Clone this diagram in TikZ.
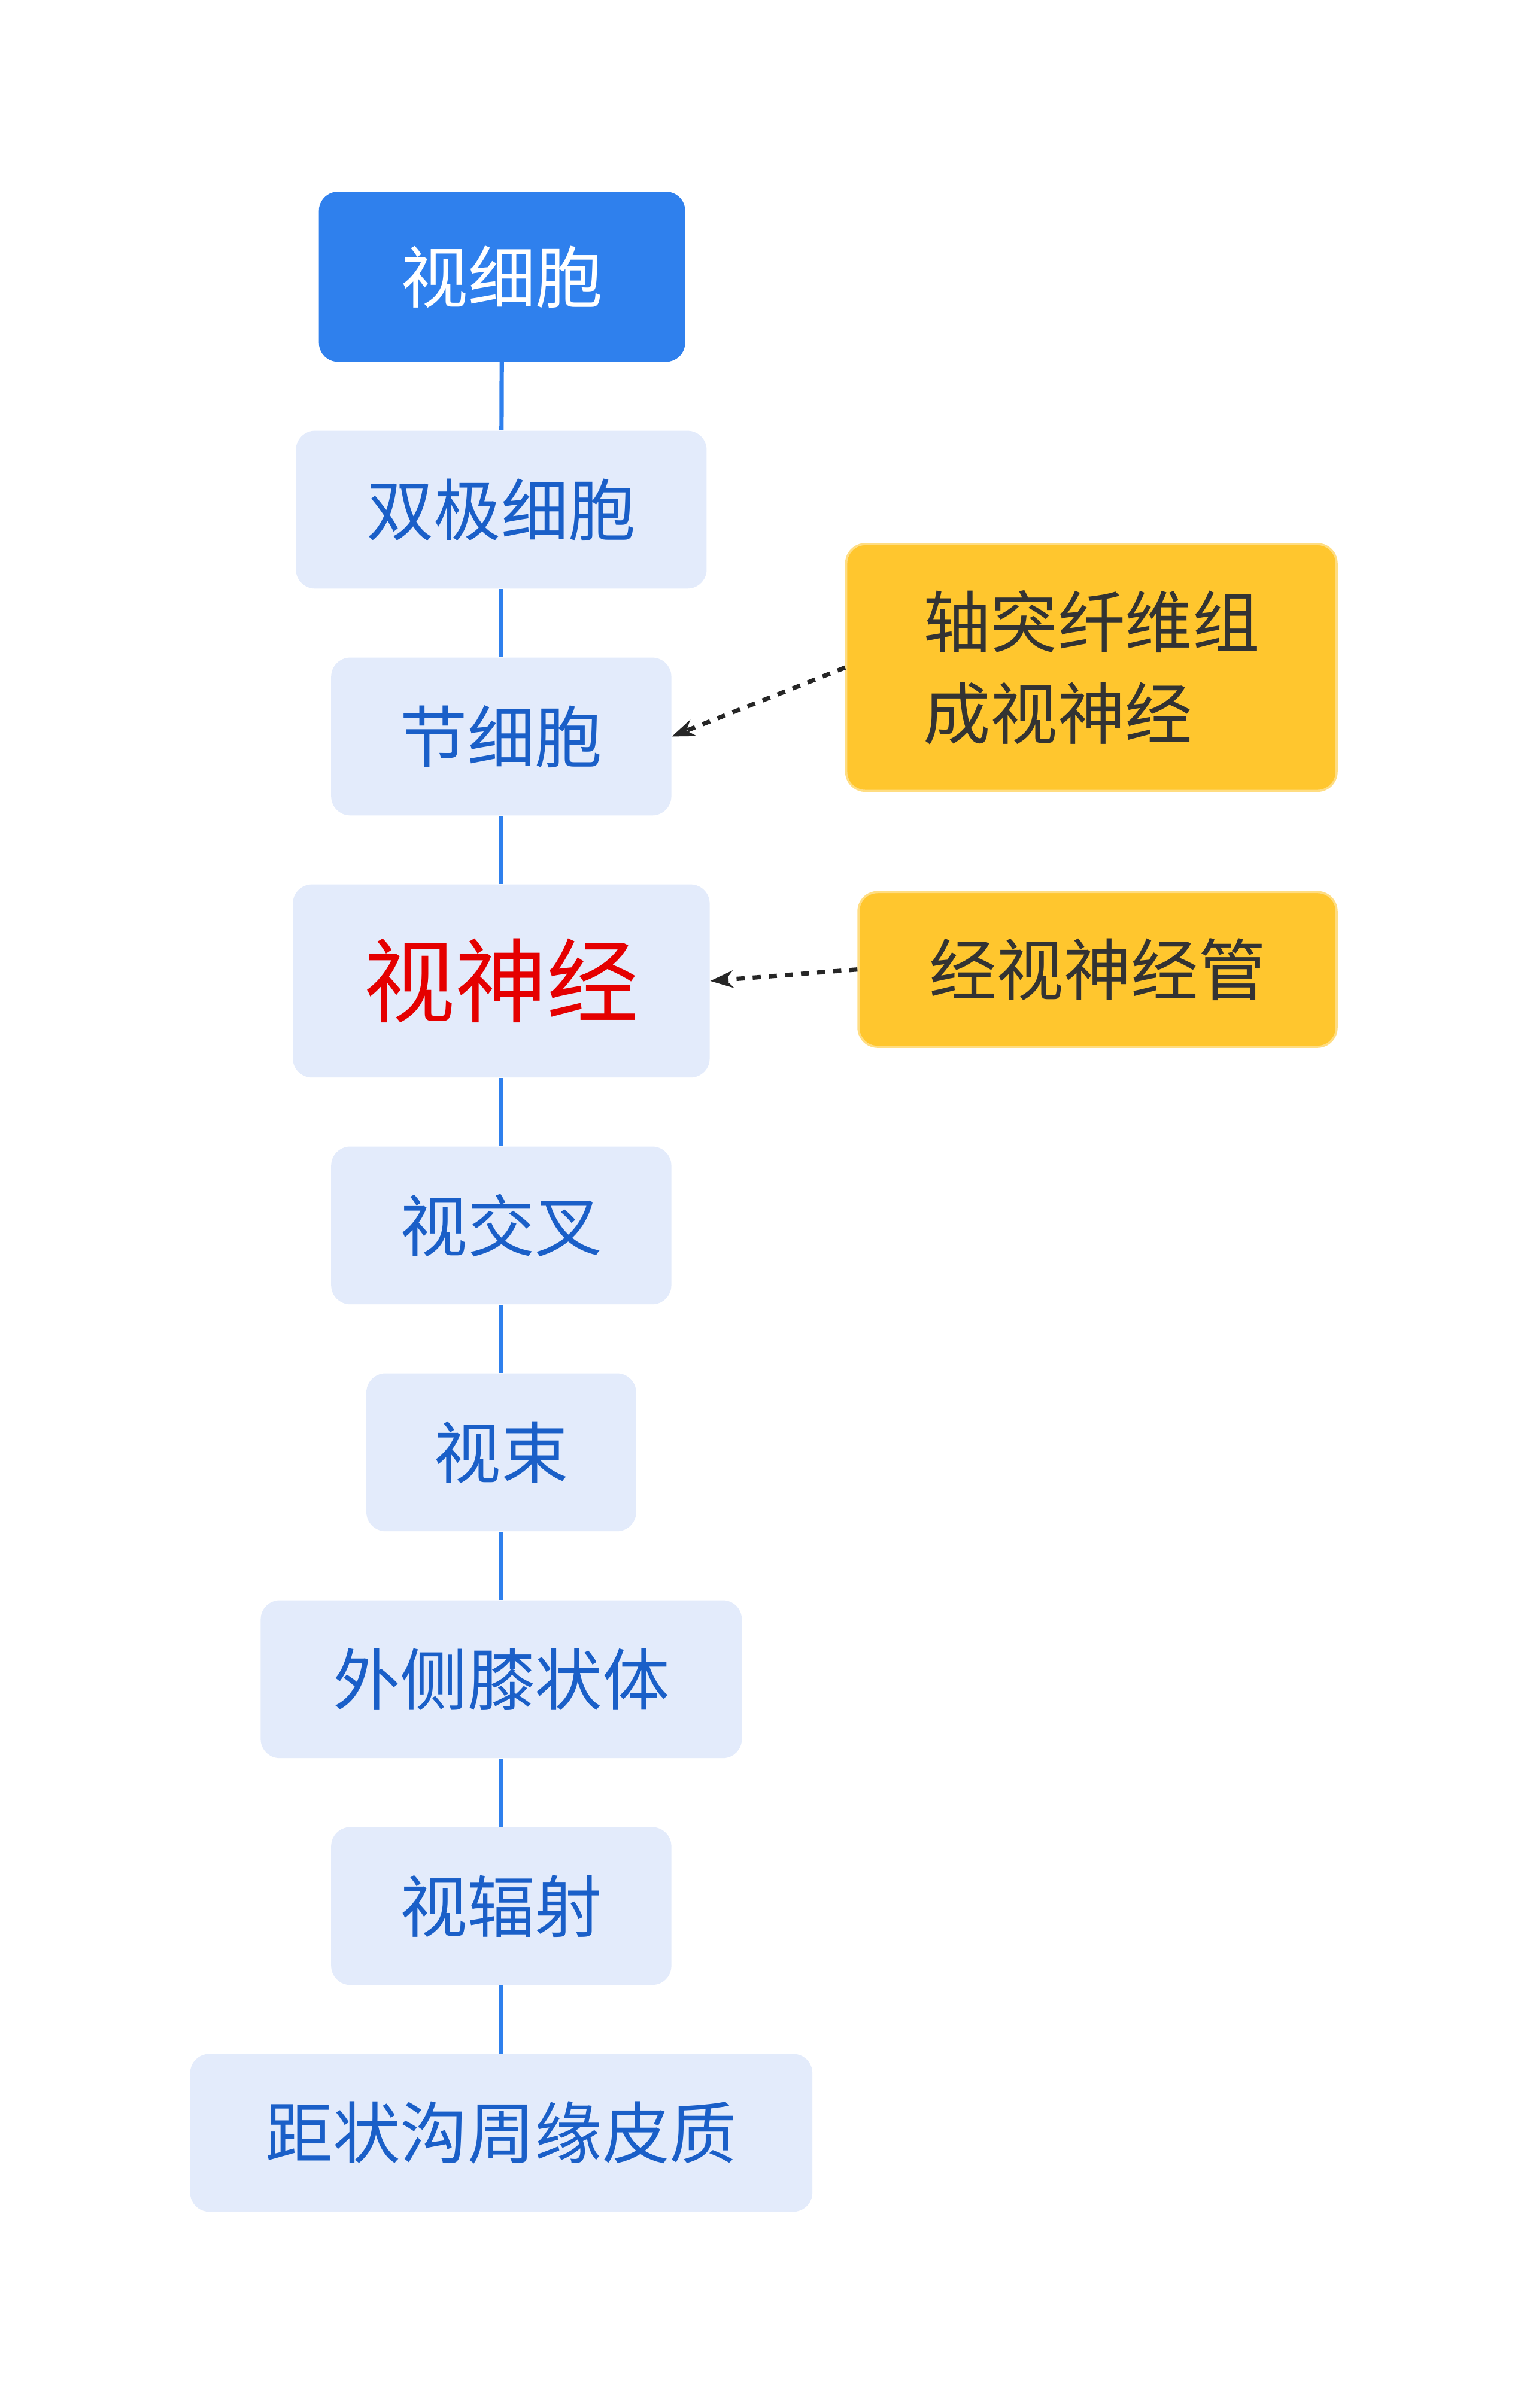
\documentclass[tikz,border=0pt]{standalone}
\usepackage{fontspec}
\setmainfont{Noto Sans CJK SC}
\usetikzlibrary{arrows.meta}
\definecolor{topblue}{HTML}{2F80ED}
\definecolor{boxfill}{HTML}{E3EBFB}
\definecolor{boxtext}{HTML}{1A5FC8}
\definecolor{notefill}{HTML}{FFC62E}
\tikzset{chain/.style={fill=boxfill, rounded corners=2.5mm, text=boxtext, font=\fontsize{25}{30}\selectfont, minimum height=2.06cm, inner sep=0pt},
  note/.style={fill=notefill, draw=notefill!60!white, line width=0.8pt, rounded corners=2.5mm, text=black!80, font=\fontsize{25}{34}\selectfont, inner sep=0pt},
  link/.style={draw=topblue, line width=1.6pt},
  hint/.style={dashed, line width=1.6pt, draw=black!85, -{Stealth[length=3mm]}}}
\begin{document}
\begin{tikzpicture}[x=0.02cm, y=-0.02cm]
\useasboundingbox (0,0) rectangle (1000,1571);
\node (vc) [chain, fill=topblue, text=white, minimum width=4.78cm, minimum height=2.22cm] at (327.5,180.5) {视细胞};
\node (bp) [chain, minimum width=5.36cm] at (327,332.5) {双极细胞};
\node (gc) [chain, minimum width=4.44cm] at (327,480.5) {节细胞};
\node (on) [chain, minimum width=5.44cm, minimum height=2.52cm, text=red!90!black, font=\fontsize{34}{40}\selectfont] at (327,640) {视神经};
\node (oc) [chain, minimum width=4.44cm] at (327,799.5) {视交叉};
\node (ot) [chain, minimum width=3.52cm] at (327,947.5) {视束};
\node (lg) [chain, minimum width=6.28cm] at (327,1095.5) {外侧膝状体};
\node (orad) [chain, minimum width=4.44cm] at (327,1243.5) {视辐射};
\node (cx) [chain, minimum width=8.12cm] at (327,1391.5) {距状沟周缘皮质};
\node (ax) [note, minimum width=6.4cm, minimum height=3.22cm, align=left] at (712,435.5) {轴突纤维组\\成视神经};
\node (ca) [note, minimum width=6.24cm, minimum height=2.02cm] at (716,632.5) {经视神经管};
\foreach \a/\b in {vc/bp, bp/gc, gc/on, on/oc, oc/ot, ot/lg, lg/orad, orad/cx}
  \draw [link] (\a) -- (\b);
\draw [hint] (ax.west) -- (gc.east);
\draw [hint] (ca.west) -- (on.east);
\end{tikzpicture}
\end{document}
